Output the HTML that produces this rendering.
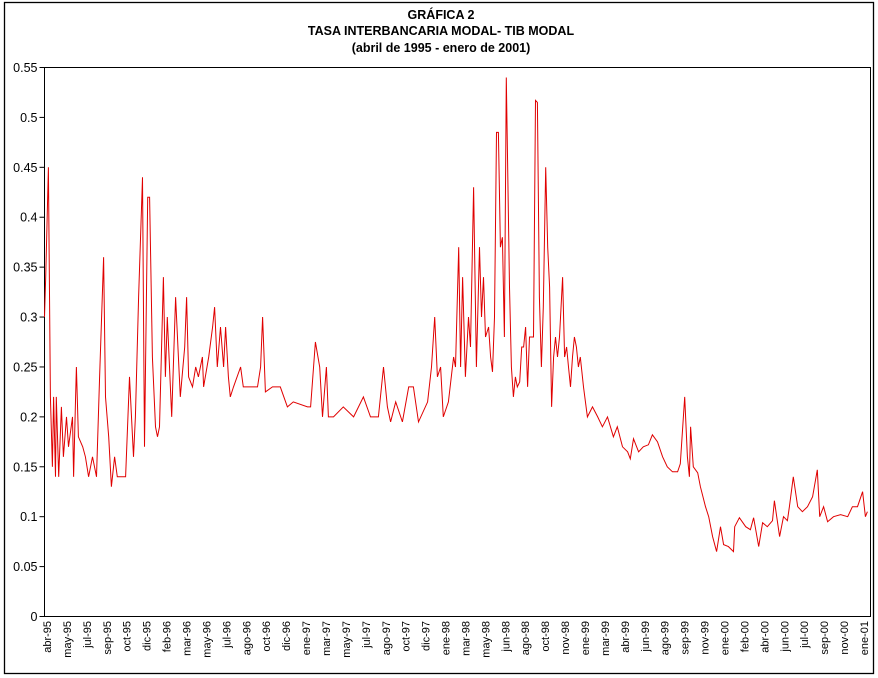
<!DOCTYPE html>
<html><head><meta charset="utf-8"><style>
html,body{margin:0;padding:0;background:#fff;}
svg{display:block;font-family:"Liberation Sans",Arial,sans-serif;}
</style></head><body>
<svg id="chart" width="878" height="678" viewBox="0 0 878 678">
<rect x="4.5" y="2.5" width="869" height="671" fill="#fff" stroke="#000" stroke-width="1.3"/>
<g font-weight="bold" font-size="12.5" text-anchor="middle" fill="#000">
<text x="441" y="19">GRÁFICA 2</text>
<text x="441" y="35">TASA INTERBANCARIA MODAL- TIB MODAL</text>
<text x="441" y="52">(abril de 1995 - enero de 2001)</text>
</g>
<rect x="44.5" y="67.5" width="826" height="549" fill="none" stroke="#000" stroke-width="1"/>
<g id="yaxis"></g>
<g id="xaxis"></g>
<path id="series" fill="none" stroke="#e00000" stroke-width="1"/>
</svg>
<script>
const yTicks = [0,0.05,0.1,0.15,0.2,0.25,0.3,0.35,0.4,0.45,0.5,0.55];
const yTickLabels = ["0","0.05","0.1","0.15","0.2","0.25","0.3","0.35","0.4","0.45","0.5","0.55"];
const xTickLabels = ["abr-95","may-95","jul-95","sep-95","oct-95","dic-95","feb-96","mar-96","may-96","jul-96","ago-96","oct-96","dic-96","ene-97","mar-97","may-97","jul-97","ago-97","oct-97","dic-97","ene-98","mar-98","may-98","jun-98","ago-98","oct-98","nov-98","ene-99","mar-99","abr-99","jun-99","ago-99","sep-99","nov-99","ene-00","feb-00","abr-00","jun-00","jul-00","sep-00","nov-00","ene-01"];
const days = [0,3,10,15,20,23,28,30,36,43,48,56,61,71,74,79,81,86,97,104,112,122,132,140,150,155,163,170,178,185,206,216,226,231,239,249,254,262,267,274,282,287,292,302,307,312,323,333,340,345,356,361,366,376,384,391,401,404,417,427,432,439,447,455,460,467,472,480,498,505,541,549,554,561,579,599,617,632,668,676,688,699,706,716,721,734,759,785,810,828,848,861,871,879,892,909,925,937,950,973,983,991,998,1006,1013,1026,1039,1044,1052,1057,1062,1069,1077,1082,1090,1097,1105,1110,1115,1120,1128,1133,1138,1143,1148,1153,1158,1163,1168,1173,1181,1186,1191,1196,1201,1207,1212,1217,1222,1227,1232,1242,1247,1252,1257,1262,1267,1273,1278,1283,1288,1293,1298,1303,1308,1316,1321,1326,1331,1336,1341,1346,1351,1356,1361,1369,1379,1392,1405,1417,1430,1445,1455,1468,1481,1488,1496,1509,1521,1534,1544,1557,1570,1582,1595,1608,1615,1626,1633,1638,1641,1648,1659,1666,1679,1687,1697,1707,1717,1725,1737,1750,1753,1765,1781,1793,1801,1814,1824,1836,1849,1854,1867,1877,1887,1892,1902,1913,1925,1938,1951,1963,1969,1979,1989,2004,2022,2040,2052,2065,2078,2085,2090];
const rates = [0.30,0.34,0.45,0.22,0.15,0.22,0.14,0.22,0.14,0.21,0.16,0.20,0.17,0.20,0.14,0.22,0.25,0.18,0.17,0.16,0.14,0.16,0.14,0.24,0.36,0.22,0.18,0.13,0.16,0.14,0.14,0.24,0.16,0.20,0.32,0.44,0.17,0.42,0.42,0.26,0.19,0.18,0.19,0.34,0.24,0.30,0.20,0.32,0.26,0.22,0.27,0.32,0.24,0.23,0.25,0.24,0.26,0.23,0.26,0.29,0.31,0.25,0.29,0.25,0.29,0.24,0.22,0.23,0.25,0.23,0.23,0.25,0.30,0.225,0.23,0.23,0.21,0.215,0.21,0.21,0.275,0.25,0.20,0.25,0.20,0.20,0.21,0.20,0.22,0.20,0.20,0.25,0.21,0.195,0.215,0.195,0.23,0.23,0.195,0.215,0.25,0.30,0.24,0.25,0.20,0.215,0.26,0.25,0.37,0.25,0.34,0.24,0.30,0.27,0.43,0.25,0.37,0.30,0.34,0.28,0.29,0.26,0.245,0.30,0.485,0.485,0.37,0.38,0.28,0.54,0.33,0.25,0.22,0.24,0.23,0.235,0.27,0.27,0.29,0.23,0.28,0.28,0.517,0.515,0.32,0.25,0.31,0.45,0.37,0.33,0.21,0.26,0.28,0.26,0.28,0.34,0.26,0.27,0.25,0.23,0.26,0.28,0.27,0.25,0.26,0.23,0.20,0.21,0.20,0.19,0.20,0.18,0.19,0.17,0.165,0.158,0.178,0.165,0.17,0.172,0.182,0.175,0.16,0.15,0.145,0.145,0.153,0.22,0.16,0.14,0.19,0.15,0.144,0.13,0.11,0.10,0.08,0.065,0.09,0.072,0.07,0.065,0.09,0.099,0.09,0.087,0.099,0.07,0.094,0.09,0.096,0.116,0.08,0.10,0.096,0.11,0.14,0.11,0.105,0.11,0.12,0.147,0.10,0.11,0.095,0.10,0.102,0.10,0.11,0.11,0.125,0.10,0.105];

const L=44.5,R=870.5,T=67.5,B=616.5, D0=0, D1=2098, V1=0.55;
const xScale = d => L + (d - D0) / (D1 - D0) * (R - L);
const yScale = v => B - v / V1 * (B - T);
const NS="http://www.w3.org/2000/svg";
const yg=document.getElementById('yaxis'), xg=document.getElementById('xaxis');

yTicks.forEach((t,i)=>{
  const y=yScale(t);
  const tk=document.createElementNS(NS,'line');
  tk.setAttribute('x1',L-5);tk.setAttribute('x2',L);tk.setAttribute('y1',y);tk.setAttribute('y2',y);tk.setAttribute('stroke','#000');
  
  
  yg.appendChild(tk);
  const tx=document.createElementNS(NS,'text');
  tx.setAttribute('x',L-7);tx.setAttribute('y',y+4.5);tx.setAttribute('text-anchor','end');tx.setAttribute('font-size','12.5');
  tx.textContent=yTickLabels[i];
  
  
  yg.appendChild(tx);
});

const n=xTickLabels.length, x0=47, x1=864;
xTickLabels.forEach((lab,i)=>{
  const x = x0 + i*(x1-x0)/(n-1);
  const tx=document.createElementNS(NS,'text');
  tx.setAttribute('transform','translate('+(x+4)+',621) rotate(-90)');
  tx.setAttribute('text-anchor','end');tx.setAttribute('font-size','11');
  tx.textContent=lab;
  
  
  xg.appendChild(tx);
});

let d='';
days.forEach((dy,i)=>{ d+=(i?'L':'M')+xScale(dy).toFixed(1)+','+yScale(rates[i]).toFixed(1); });
document.getElementById('series').setAttribute('d',d);
</script>
</body></html>
